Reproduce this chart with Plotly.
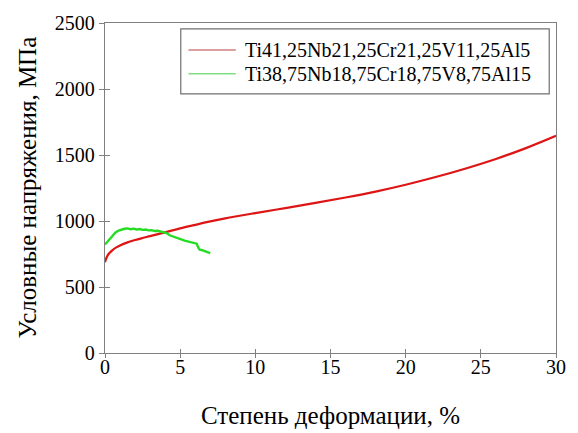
import plotly.graph_objects as go

# Engineering stress-strain curves of two Ti-Nb-Cr-V-Al alloys
strain_a = [0, 0.1, 0.25, 0.5, 0.75, 1.0, 1.5, 2, 2.5, 3, 4, 5, 6, 7, 8, 10, 12, 14,
            16, 18, 20, 22, 24, 26, 28, 30]
stress_a = [688, 722, 752, 780, 800, 815, 838, 856, 871, 885, 914, 944, 971, 997, 1020,
            1060, 1098, 1137, 1178, 1223, 1275, 1333, 1398, 1470, 1552, 1645]

strain_b = [0, 0.1, 0.2, 0.35, 0.5, 0.7, 0.9, 1.1, 1.3, 1.5, 1.7, 1.9, 2.1, 2.3, 2.5,
            2.7, 2.9, 3.1, 3.3, 3.5, 3.7, 3.9, 4.1, 4.3, 4.5, 4.7, 4.9, 5.1, 5.3, 5.5,
            5.7, 5.9, 6.1, 6.2, 6.3, 6.5, 6.7, 6.9, 7.0]
stress_b = [822, 835, 852, 874, 895, 914, 927, 936, 941, 944, 938, 942, 936, 939, 933,
            935, 929, 931, 924, 926, 918, 916, 908, 892, 883, 874, 866, 858, 852, 846,
            840, 832, 828, 800, 782, 778, 770, 762, 757]

names = ["Ti41,25Nb21,25Cr21,25V11,25Al5", "Ti38,75Nb18,75Cr18,75V8,75Al15"]
colors = ["#dd1515", "#22dd22"]
legend_colors = ["#d08080", "#80e080"]

x_ticks = [0, 5, 10, 15, 20, 25, 30]
y_ticks = [0, 500, 1000, 1500, 2000, 2500]

FONT = "'Liberation Serif', 'DejaVu Serif', serif"
AXIS_GREY = "#808080"

fig = go.Figure()
fig.add_trace(go.Scatter(x=strain_a, y=stress_a, mode="lines", name=names[0],
                         line=dict(color=colors[0], width=2.2, shape="spline", smoothing=1),
                         showlegend=False))
fig.add_trace(go.Scatter(x=strain_b, y=stress_b, mode="lines", name=names[1],
                         line=dict(color=colors[1], width=2.4), showlegend=False))
# empty trace so the overlay axes (inner half of the crossing ticks) are drawn
fig.add_trace(go.Scatter(x=[], y=[], xaxis="x2", yaxis="y2", showlegend=False,
                         hoverinfo="skip"))

tick_font = dict(family=FONT, size=20, color="black")
fig.update_layout(
    width=578, height=433,
    margin=dict(l=105, r=14, t=22, b=80),
    paper_bgcolor="white", plot_bgcolor="white",
    font=dict(family=FONT, color="black"),
    xaxis=dict(range=[0, 30], tickvals=x_ticks, ticks="outside", ticklen=4,
               tickcolor=AXIS_GREY, showline=True, linecolor=AXIS_GREY, linewidth=1.3,
               mirror=True, showticklabels=False, showgrid=False, zeroline=False),
    yaxis=dict(range=[0, 2500], tickvals=y_ticks, ticks="outside", ticklen=5,
               tickcolor=AXIS_GREY, showline=True, linecolor=AXIS_GREY, linewidth=1.3,
               mirror=True, tickfont=tick_font, showgrid=False, zeroline=False),
    xaxis2=dict(range=[0, 30], tickvals=x_ticks, ticks="inside", ticklen=4,
                tickcolor=AXIS_GREY, showticklabels=True, tickfont=tick_font,
                showline=False, side="bottom",
                overlaying="x", anchor="y2", showgrid=False, zeroline=False),
    yaxis2=dict(range=[0, 2500], tickvals=y_ticks, ticks="inside", ticklen=5,
                tickcolor=AXIS_GREY, showticklabels=False, showline=False,
                overlaying="y", anchor="x2", showgrid=False, zeroline=False),
)

# axis titles
fig.add_annotation(text="Степень деформации, %", xref="paper", yref="paper",
                   x=0.5, y=-0.19, xanchor="center", yanchor="middle", showarrow=False,
                   font=dict(family=FONT, size=25, color="black"))
fig.add_annotation(text="Условные напряжения, МПа", xref="paper", yref="paper",
                   x=-0.174, y=0.5, xanchor="center", yanchor="middle", showarrow=False,
                   textangle=-90, font=dict(family=FONT, size=25, color="black"))

# legend box with sample lines
fig.add_shape(type="rect", xref="paper", yref="paper", x0=0.168, x1=0.985,
              y0=0.785, y1=0.982, line=dict(color="#707070", width=1.2),
              fillcolor="white", layer="above")
legend_y = [0.918, 0.846]
for name, lc, ly in zip(names, legend_colors, legend_y):
    fig.add_shape(type="line", xref="paper", yref="paper", x0=0.185, x1=0.290,
                  y0=ly, y1=ly, line=dict(color=lc, width=1.5), layer="above")
    fig.add_annotation(text=name, xref="paper", yref="paper", x=0.305, y=ly,
                       xanchor="left", yanchor="middle", showarrow=False,
                       font=dict(family=FONT, size=20, color="black"))

fig.write_html("out.html")
